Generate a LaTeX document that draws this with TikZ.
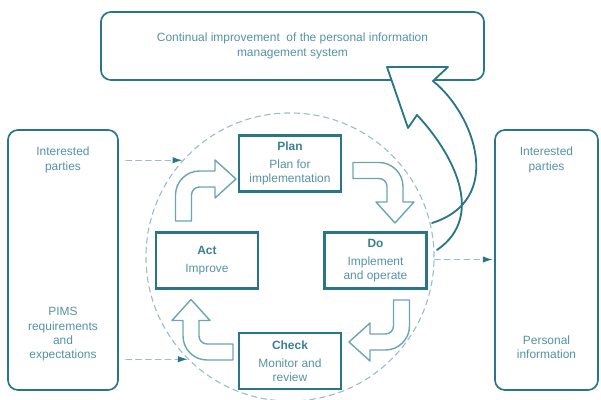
\documentclass[tikz,border=0pt]{standalone}
\usepackage{fontspec}
\setmainfont{Liberation Sans}
\usetikzlibrary{arrows.meta}

\definecolor{boxteal}{HTML}{2A7689}
\definecolor{headteal}{HTML}{3C7F92}
\definecolor{textteal}{HTML}{5592A5}
\definecolor{arrowteal}{HTML}{6BA5B4}
\definecolor{dashteal}{HTML}{9DBDC6}

\newcommand{\stephead}[1]{\textcolor{headteal}{\textbf{#1}}}

\tikzset{
	stepbox/.style={draw=boxteal,line width=1.8pt,minimum width=2.55cm,minimum height=1.4cm,
		align=center,text=textteal,inner sep=2pt},
	sidebox/.style={draw=boxteal,line width=1.2pt,rounded corners=0.25cm},
	sidetext/.style={align=center,text=textteal},
	flow/.style={dashteal,line width=0.8pt,dash pattern=on 4pt off 3pt,
		-{Latex[length=7pt,width=4.5pt,color=boxteal]}},
	% hollow bent arrow, drawn from the foot of its shaft
	bentarrow/.pic={
		\draw[draw=arrowteal,fill=white,line width=1pt,line join=round]
			(-8,0) -- (-8,-26) .. controls (-8,-39.2) and (2.8,-50) .. (16,-50)
			-- (31.5,-50) -- (31.5,-61) -- (52.5,-42) -- (31.5,-23) -- (31.5,-34)
			-- (16,-34) .. controls (11.6,-34) and (8,-30.4) .. (8,-26) -- (8,0) -- cycle;
	}
}

\begin{document}
\begin{tikzpicture}[x=0.025cm,y=-0.025cm,cap=round,font=\fontsize{8.5pt}{10.2pt}\selectfont]
	\useasboundingbox (0,0) rectangle (601,400);

	% draw the dashed cycle
	\node[circle,draw=dashteal,line width=0.8pt,dash pattern=on 4pt off 3pt,
		minimum size=7.2cm,inner sep=0pt] (cycle) at (290,257) {};

	% draw the outer boxes
	\node[sidebox,minimum width=2.75cm,minimum height=6.5cm] (lin) at (63,260) {};
	\node[sidebox,minimum width=2.575cm,minimum height=6.5cm] (rout) at (546.5,260) {};
	\node[sidebox,minimum width=9.575cm,minimum height=1.7cm,align=center,text=textteal]
		(improve) at (292.5,46) {Continual improvement \ of the personal information\\management system};

	% texts in the outer boxes
	\node[sidetext] (linparties) at (63,160) {Interested\\parties};
	\node[sidetext] (linreq) at (63,334.5) {PIMS\\requirements\\and\\expectations};
	\node[sidetext] (routparties) at (546.5,160) {Interested\\parties};
	\node[sidetext] (routinfo) at (546.5,347) {Personal\\information};

	% draw the four steps
	\node[stepbox] (plan) at (290,163.5) {\stephead{Plan}\\[2.5pt]Plan for\\implementation};
	\node[stepbox] (do) at (375.5,260.5) {\stephead{Do}\\[2.5pt]Implement\\and operate};
	\node[stepbox] (check) at (290,361) {\stephead{Check}\\[2.5pt]Monitor and\\review};
	\node[stepbox] (act) at (207,260.5) {\stephead{Act}\\[2.5pt]Improve};

	% arrows between the steps
	\foreach \x/\y/\a in {183.5/221/0, 353/170.5/-90, 401.5/300/180, 233/352/90}
		\pic[rotate=\a] at (\x,\y) {bentarrow};

	% dashed inputs and output
	\draw[flow,shorten <=5pt] (lin.east |- cycle.138) -- (cycle.138);
	\draw[flow,shorten <=5pt] (lin.east |- cycle.225) -- (cycle.225);
	\draw[flow,shorten >=1pt] (cycle.359) -- (rout.west |- cycle.359);

	% big arrow up to the improvement box
	\filldraw[fill=white,draw=boxteal,line width=1.3pt,line join=round]
		(437,250) .. controls (488,215) and (450,150) .. (417,115)
		-- (408,128) -- (387,67) -- (448,67) -- (433,81)
		.. controls (475,115) and (505,200) .. (432,223);
\end{tikzpicture}
\end{document}
